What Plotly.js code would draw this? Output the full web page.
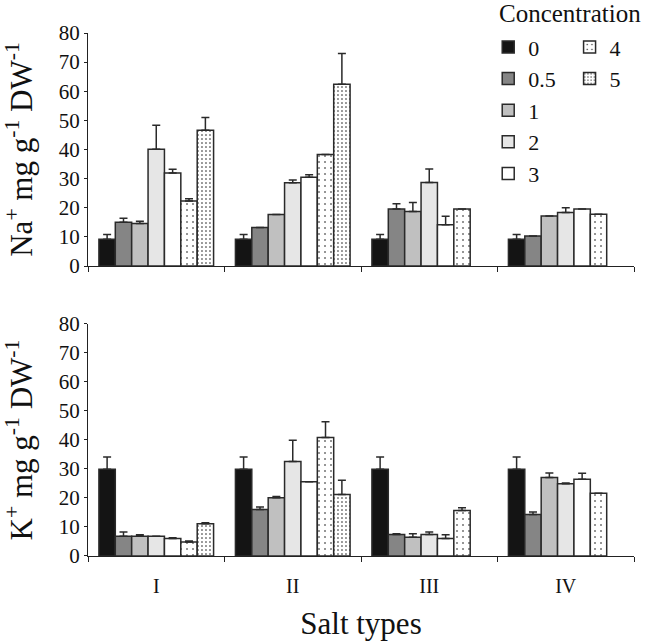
<!DOCTYPE html>
<html>
<head>
<meta charset="utf-8">
<script src="https://cdn.plot.ly/plotly-3.0.1.min.js"></script>
<style>html,body{margin:0;padding:0;background:#fff;}#chart{width:645px;height:643px;}</style>
</head>
<body>
<div id="chart"></div>
<script>
// ---- data ----
const saltTypes = ['I', 'II', 'III', 'IV'];
const concentrations = ['0', '0.5', '1', '2', '3', '4', '5'];

// Na+ (mg g-1 DW-1), one array per concentration over salt types I..IV
const na_c0  = [9.2, 9.2, 9.2, 9.2];
const na_c05 = [15.0, 13.2, 19.6, 10.3];
const na_c1  = [14.6, 17.7, 18.7, 17.2];
const na_c2  = [40.1, 28.6, 28.7, 18.4];
const na_c3  = [31.9, 30.5, 14.2, 19.6];
const na_c4  = [22.3, 38.3, 19.6, 17.8];
const na_c5  = [46.6, 62.4, null, null];
// upper error (SE)
const na_e0  = [1.6, 1.6, 1.6, 1.6];
const na_e05 = [1.4, null, 1.8, null];
const na_e1  = [0.8, null, 3.1, null];
const na_e2  = [8.2, 0.9, 4.6, 1.6];
const na_e3  = [1.3, 0.8, 2.9, null];
const na_e4  = [0.8, null, null, null];
const na_e5  = [4.4, 10.6, null, null];

// K+ (mg g-1 DW-1)
const k_c0  = [29.9, 29.9, 29.9, 29.9];
const k_c05 = [6.8, 16.0, 7.4, 14.3];
const k_c1  = [6.8, 20.1, 6.5, 27.1];
const k_c2  = [6.8, 32.6, 7.4, 24.9];
const k_c3  = [6.0, 25.6, 6.0, 26.5];
const k_c4  = [4.8, 40.9, 15.7, 21.6];
const k_c5  = [11.1, 21.2, null, null];
const k_e0  = [4.2, 4.2, 4.2, 4.2];
const k_e05 = [1.5, 0.9, 0.3, 0.9];
const k_e1  = [0.5, 0.4, 1.2, 1.5];
const k_e2  = [null, 7.3, 0.9, 0.3];
const k_e3  = [0.3, null, 1.3, 2.0];
const k_e4  = [0.4, 5.4, 0.9, null];
const k_e5  = [0.4, 4.9, null, null];

const naSeries = [na_c0, na_c05, na_c1, na_c2, na_c3, na_c4, na_c5];
const naErrors = [na_e0, na_e05, na_e1, na_e2, na_e3, na_e4, na_e5];
const kSeries  = [k_c0, k_c05, k_c1, k_c2, k_c3, k_c4, k_c5];
const kErrors  = [k_e0, k_e05, k_e1, k_e2, k_e3, k_e4, k_e5];

// ---- styles ----
const fills = ['#141414', '#858585', '#c0c0c0', '#e6e6e6', '#ffffff', '#ffffff', '#ffffff'];
const patterns = [null, null, null, null, null,
  {shape: '.', size: 6, solidity: 0.06, fgcolor: '#111', bgcolor: '#ffffff', fillmode: 'replace'},
  {shape: '.', size: 4, solidity: 0.12, fgcolor: '#111', bgcolor: '#ffffff', fillmode: 'replace'}];
const legendOf = ['legend', 'legend', 'legend', 'legend', 'legend', 'legend2', 'legend2'];
const FONT = 'Liberation Serif';
const INK = '#222';

function makeTraces(series, errors, xa, ya, showLegend) {
  return series.map((vals, i) => {
    const marker = {color: fills[i], line: {color: '#2a2a2a', width: 1.5}};
    if (patterns[i]) marker.pattern = patterns[i];
    return {
      type: 'bar',
      name: concentrations[i],
      x: saltTypes,
      y: vals,
      xaxis: xa, yaxis: ya,
      marker: marker,
      legend: legendOf[i],
      showlegend: showLegend,
      error_y: {
        type: 'data', symmetric: false,
        array: errors[i],
        arrayminus: errors[i].map(() => 0),
        color: '#2a2a2a', thickness: 1.5, width: 4
      },
      hoverinfo: 'skip'
    };
  });
}

const traces = [].concat(
  makeTraces(naSeries, naErrors, 'x', 'y', true),
  makeTraces(kSeries, kErrors, 'x2', 'y2', false)
);

const yCommon = {
  range: [0, 80], dtick: 10, ticks: 'outside', ticklen: 3, tickcolor: INK,
  showline: true, linecolor: INK, linewidth: 1, showgrid: false, zeroline: false,
  tickfont: {family: FONT, size: 21, color: '#111'}, fixedrange: true
};
const xCommon = {
  type: 'category', range: [-0.5, 3.5], tickson: 'boundaries',
  ticks: 'outside', ticklen: 5, tickcolor: INK,
  showline: true, linecolor: INK, linewidth: 1, showgrid: false, zeroline: false,
  tickfont: {family: FONT, size: 20, color: '#111'}, fixedrange: true
};

const layout = {
  width: 645, height: 643,
  margin: {l: 88, r: 11, t: 33, b: 87},
  paper_bgcolor: '#fff', plot_bgcolor: '#fff',
  font: {family: FONT, color: '#111'},
  barmode: 'group', bargap: 0.16, bargroupgap: 0,
  xaxis: Object.assign({}, xCommon, {anchor: 'y', showticklabels: false}),
  yaxis: Object.assign({}, yCommon, {domain: [0.5545, 1], anchor: 'x',
    title: {text: 'Na<sup>+</sup> mg g<sup>-1</sup> DW<sup>-1</sup>', font: {family: FONT, size: 31, color: '#111'}, standoff: 22}}),
  xaxis2: Object.assign({}, xCommon, {anchor: 'y2', ticklabelstandoff: 12,
    title: {text: 'Salt types', font: {family: FONT, size: 31, color: '#111'}, standoff: 16}}),
  yaxis2: Object.assign({}, yCommon, {domain: [0, 0.4436], anchor: 'x2',
    title: {text: 'K<sup>+</sup> mg g<sup>-1</sup> DW<sup>-1</sup>', font: {family: FONT, size: 31, color: '#111'}, standoff: 22}}),
  legend: {x: 0.733, y: 1.013, xanchor: 'left', yanchor: 'top', xref: 'paper', yref: 'paper',
    bgcolor: 'rgba(0,0,0,0)', font: {family: FONT, size: 22, color: '#111'},
    traceorder: 'normal', itemclick: false, itemdoubleclick: false, tracegroupgap: 0},
  legend2: {x: 0.882, y: 1.013, xanchor: 'left', yanchor: 'top', xref: 'paper', yref: 'paper',
    bgcolor: 'rgba(0,0,0,0)', font: {family: FONT, size: 22, color: '#111'},
    traceorder: 'normal', itemclick: false, itemdoubleclick: false, tracegroupgap: 0},
  annotations: [{
    text: 'Concentration', xref: 'paper', yref: 'paper', x: 0.882, y: 1.038,
    xanchor: 'center', yanchor: 'middle', showarrow: false,
    font: {family: FONT, size: 25, color: '#111'}
  }]
};

Plotly.newPlot('chart', traces, layout, {displayModeBar: false, staticPlot: true});
</script>
</body>
</html>
